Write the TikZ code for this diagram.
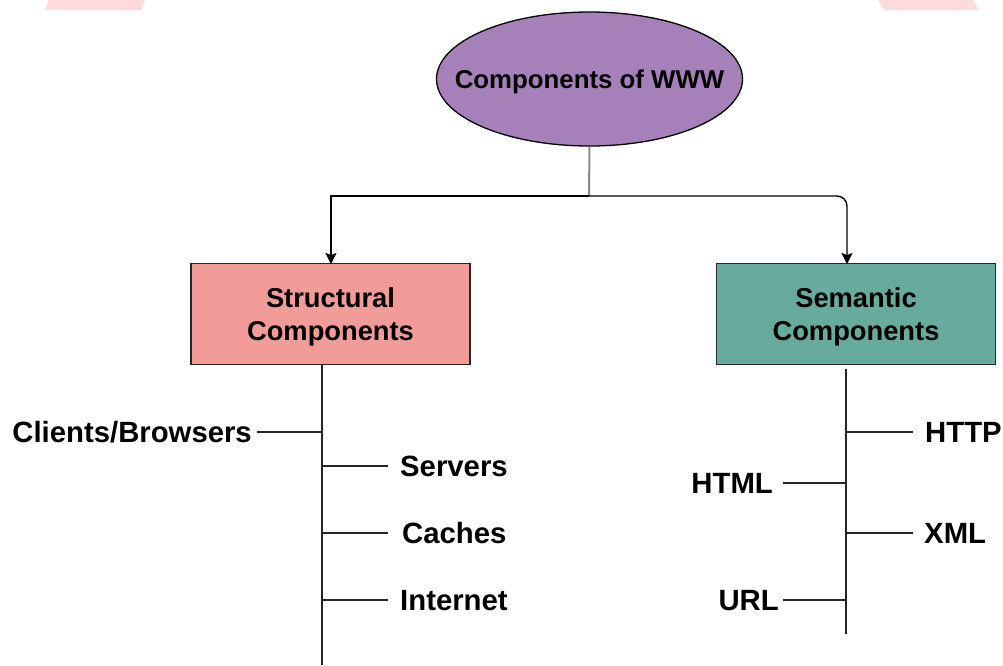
\documentclass[tikz,border=0pt]{standalone}
\usepackage{fontspec}
\setmainfont{Liberation Sans}
\usetikzlibrary{arrows.meta,shapes.geometric}
\definecolor{rootfill}{HTML}{A680B8}
\definecolor{structfill}{HTML}{F19C99}
\definecolor{semfill}{HTML}{67AB9F}
\definecolor{wmark}{HTML}{FFDADD}
\definecolor{stemgray}{HTML}{8A8A8A}
\definecolor{spine}{HTML}{262626}
\tikzset{
  rootnode/.style={ellipse, draw=black, line width=1.3pt, fill=rootfill,
    minimum width=306pt, minimum height=134pt, inner xsep=-27pt, inner ysep=0pt,
    font=\bfseries\fontsize{25.8}{30}\selectfont, text height=18.5pt, text depth=0pt},
  compbox/.style={rectangle, draw=black!85, line width=1.3pt,
    minimum width=279pt, minimum height=101pt, inner sep=0pt, align=center,
    font=\bfseries\fontsize{27.3}{33}\selectfont, text depth=0pt},
  lbl/.style={inner sep=0pt, font=\bfseries\fontsize{29.3}{33}\selectfont,
    text height=21pt, text depth=0pt},
  conn/.style={line width=1.4pt, draw=black},
  arr/.style={conn, -{Stealth[length=11pt,width=11pt,inset=2pt]}},
  spineline/.style={line width=1.4pt, draw=spine},
}
\begin{document}
\begin{tikzpicture}[x=1pt,y=-1pt]
\useasboundingbox (0,0) rectangle (1003,665);
% faint watermark remnants at the top edge
\fill[wmark] (49,0) -- (145,0) -- (141,10) -- (45,10) -- cycle;
\fill[wmark] (878,0) -- (973,0) -- (979,10) -- (884,10) -- cycle;

\node[rootnode] (root) at (589.5,79) {Components of WWW};
\node[compbox, fill=structfill] (struct) at (330.5,314) {Structural\\Components};
\node[compbox, fill=semfill] (sem) at (856,314) {Semantic\\Components};

\coordinate (j) at (589,196);
\coordinate (sin) at (847,264);
\coordinate (tin) at (331,264);
\draw[line width=2pt, stemgray] (root.south) -- (j);
\draw[arr] (j) -| (tin);
\draw[arr, rounded corners=10pt] (j) -| (sin);

% left spine
\coordinate (ltop) at (322,365);
\coordinate (lbot) at (322,665);
\coordinate (l1) at (322,432);
\coordinate (l2) at (322,466);
\coordinate (l3) at (322,533);
\coordinate (l4) at (322,600);
\draw[spineline] (ltop) -- (lbot);

\node[lbl, anchor=east] (clients) at (252,432) {Clients/Browsers};
\node[lbl, anchor=west] (servers) at (400,466) {Servers};
\node[lbl, anchor=west] (caches) at (402,533) {Caches};
\node[lbl, anchor=west] (internet) at (400,600) {Internet};
\draw[spineline] ([xshift=5pt]clients.east) -- (l1);
\draw[spineline] (l2) -- ([xshift=-12pt]servers.west);
\draw[spineline] (l3) -- ([xshift=-14pt]caches.west);
\draw[spineline] (l4) -- ([xshift=-12pt]internet.west);

% right spine
\coordinate (rtop) at (846,369);
\coordinate (rbot) at (846,634);
\coordinate (r1) at (846,432);
\coordinate (r2) at (846,483);
\coordinate (r3) at (846,533);
\coordinate (r4) at (846,600);
\draw[spineline] (rtop) -- (rbot);

\node[lbl, anchor=west] (http) at (925,432) {HTTP};
\node[lbl, anchor=east] (html) at (773,483) {HTML};
\node[lbl, anchor=west] (xml) at (924,533) {XML};
\node[lbl, anchor=east] (url) at (779,600) {URL};
\draw[spineline] (r1) -- ([xshift=-12pt]http.west);
\draw[spineline] ([xshift=10pt]html.east) -- (r2);
\draw[spineline] (r3) -- ([xshift=-11pt]xml.west);
\draw[spineline] ([xshift=4pt]url.east) -- (r4);
\end{tikzpicture}
\end{document}
